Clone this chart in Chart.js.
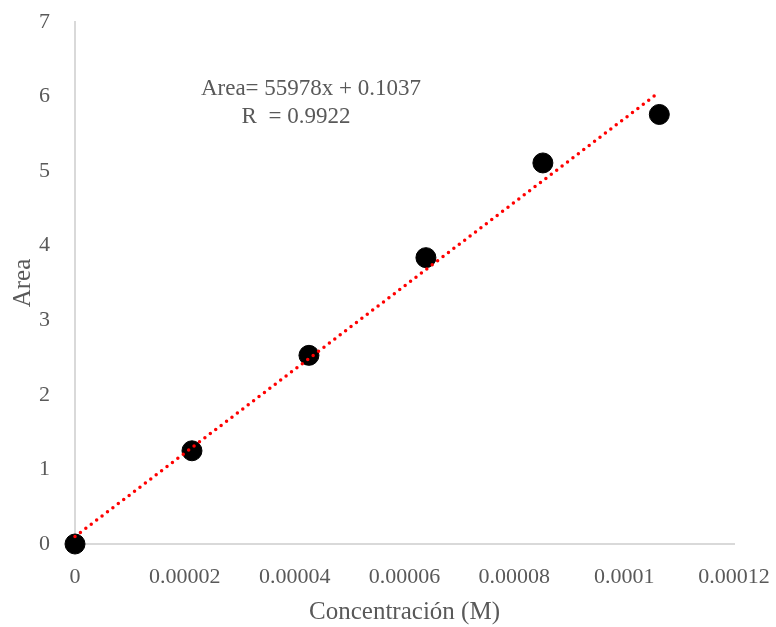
<!DOCTYPE html>
<html>
<head>
<meta charset="utf-8">
<script src="https://cdn.jsdelivr.net/npm/chart.js@4"></script>
<style>
  html, body { margin: 0; padding: 0; background: #fff; }
  #wrap { width: 776px; height: 627px; }
</style>
</head>
<body>
<div id="wrap"><canvas id="calChart" width="776" height="627"></canvas></div>
<script>
  // Calibration points
  const concentrations = [0, 0.0000213, 0.0000426, 0.0000639, 0.0000852, 0.0001064];
  const areas = [0, 1.25, 2.53, 3.84, 5.11, 5.76];

  // Trendline endpoints (as drawn)
  const trendX = [0, 0.0001064];
  const trendY = [0.10, 6.06];

  const xTickLabels = ['0', '0.00002', '0.00004', '0.00006', '0.00008', '0.0001', '0.00012'];
  const yTickLabels = ['0', '1', '2', '3', '4', '5', '6', '7'];

  const equationLines = ['Area= 55978x + 0.1037', 'R  = 0.9922'];

  const textColor = '#595959';
  const serif = "'Liberation Serif', 'Times New Roman', serif";

  // Draws the trendline equation text
  const equationLabel = {
    id: 'equationLabel',
    afterDraw(chart) {
      const ctx = chart.ctx;
      ctx.save();
      ctx.fillStyle = textColor;
      ctx.font = '23px ' + serif;
      ctx.textAlign = 'center';
      ctx.textBaseline = 'middle';
      ctx.fillText(equationLines[0], 311, 89);
      ctx.fillText(equationLines[1], 296, 117);
      ctx.restore();
    }
  };

  const ctx = document.getElementById('calChart').getContext('2d');
  new Chart(ctx, {
    type: 'scatter',
    data: {
      datasets: [
        {
          label: 'Area',
          data: concentrations.map((c, i) => ({ x: c, y: areas[i] })),
          backgroundColor: '#000',
          borderColor: '#000',
          pointRadius: 10,
          pointHoverRadius: 10,
          clip: false,
          order: 1
        },
        {
          label: 'Lineal',
          type: 'line',
          data: trendX.map((c, i) => ({ x: c, y: trendY[i] })),
          borderColor: '#ff0000',
          borderWidth: 3.5,
          borderDash: [0, 6.8],
          borderCapStyle: 'round',
          pointRadius: 0,
          fill: false,
          clip: false,
          order: 0
        }
      ]
    },
    options: {
      responsive: false,
      animation: false,
      layout: { padding: { top: 22, right: 42, left: 0, bottom: 0 } },
      plugins: {
        legend: { display: false },
        tooltip: { enabled: false }
      },
      scales: {
        x: {
          type: 'linear',
          min: 0,
          max: 0.00012,
          afterFit: s => { s.height = 83; s.paddingLeft = 0; s.paddingRight = 0; },
          afterBuildTicks: s => { s.ticks = xTickLabels.map((t, i) => ({ value: i * 0.00002 })); },
          grid: { display: false, drawTicks: false },
          border: { display: true, color: '#d9d9d9', width: 2 },
          ticks: {
            padding: 20,
            color: textColor,
            font: { family: serif, size: 22 },
            maxRotation: 0,
            callback: (v, i) => xTickLabels[i]
          },
          title: {
            display: true,
            text: 'Concentración (M)',
            color: textColor,
            font: { family: serif, size: 25 },
            padding: { top: 2, bottom: 0 }
          }
        },
        y: {
          min: 0,
          max: 7,
          afterFit: s => { s.width = 75; s.paddingTop = 0; s.paddingBottom = 0; },
          afterBuildTicks: s => { s.ticks = yTickLabels.map((t, i) => ({ value: i })); },
          grid: { display: false, drawTicks: false },
          border: { display: true, color: '#d9d9d9', width: 2 },
          ticks: {
            padding: 25,
            color: textColor,
            font: { family: serif, size: 22 },
            callback: (v, i) => yTickLabels[i]
          },
          title: {
            display: true,
            text: 'Area',
            color: textColor,
            font: { family: serif, size: 25 },
            padding: { top: 8, bottom: 0 }
          }
        }
      }
    },
    plugins: [equationLabel]
  });
</script>
</body>
</html>
